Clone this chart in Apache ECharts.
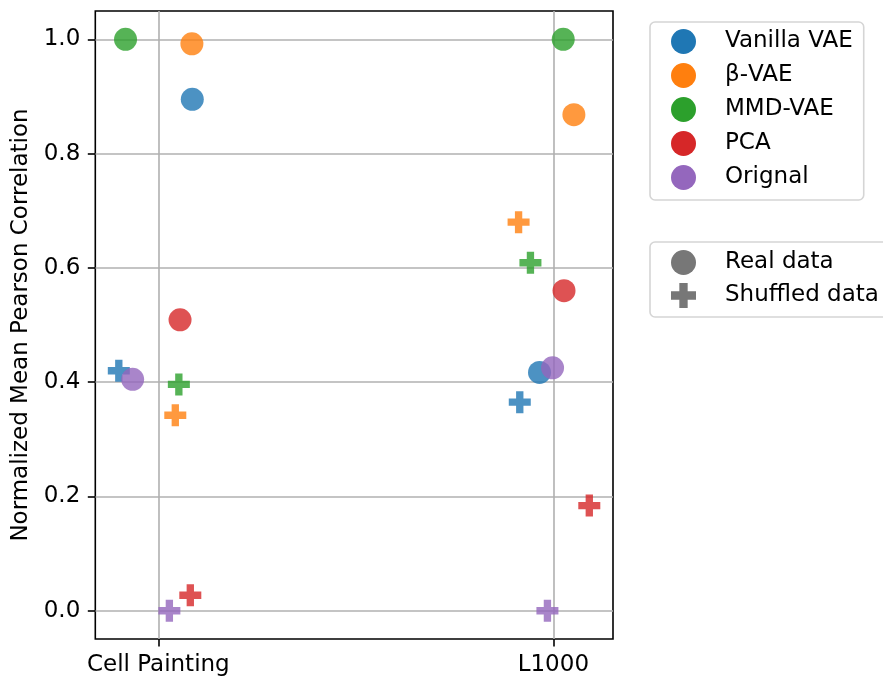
<!DOCTYPE html>
<html>
<head>
<meta charset="utf-8">
<script src="https://cdn.jsdelivr.net/npm/echarts@6/dist/echarts.min.js"></script>
<style>
  html, body { margin: 0; padding: 0; background: #ffffff; }
  #chart { width: 883px; height: 677px; }
</style>
</head>
<body>
<div id="chart"></div>
<script>
// Datasets on the x axis, methods as colours
const categories = ['Cell Painting', 'L1000'];
const methods = ['Vanilla VAE', 'β-VAE', 'MMD-VAE', 'PCA', 'Orignal'];
const colors = ['#1f77b4', '#ff7f0e', '#2ca02c', '#d62728', '#9467bd'];

// Normalized mean Pearson correlation, [Cell Painting, L1000] per method
const realValues = [
  [0.895, 0.417],
  [0.992, 0.868],
  [1.000, 1.000],
  [0.509, 0.560],
  [0.405, 0.425]
];
const shuffledValues = [
  [0.420, 0.365],
  [0.342, 0.680],
  [0.396, 0.609],
  [0.027, 0.184],
  [0.000, 0.000]
];

// Strip-plot horizontal jitter (in category units) for each point
const realJitter = [
  [0.086, -0.035],
  [0.085, 0.052],
  [-0.083, 0.025],
  [0.055, 0.027],
  [-0.065, -0.002]
];
const shuffledJitter = [
  [-0.100, -0.085],
  [0.043, -0.088],
  [0.052, -0.058],
  [0.081, 0.091],
  [0.028, -0.015]
];

const yTicks = [0, 0.2, 0.4, 0.6, 0.8, 1.0];
const xTicks = [0, 1];

const FONT = 'DejaVu Sans';
const FONT_SIZE = 23;
const PLUS = 'path://M1,0H2V1H3V2H2V3H1V2H0V1H1Z';
const GRID_COLOR = '#b0b0b0';

function points(values, jitter) {
  return values.map((v, k) => [k + jitter[k], v]);
}

const series = [];
// Shuffled data (plus markers) drawn first, real data (circles) on top
methods.forEach((m, i) => {
  series.push({
    name: m,
    type: 'scatter',
    symbol: PLUS,
    symbolSize: 22,
    itemStyle: { color: colors[i], opacity: 0.8 },
    data: points(shuffledValues[i], shuffledJitter[i])
  });
});
methods.forEach((m, i) => {
  series.push({
    name: m,
    type: 'scatter',
    symbol: 'circle',
    symbolSize: 23,
    itemStyle: { color: colors[i], opacity: 0.8 },
    data: points(realValues[i], realJitter[i])
  });
});
// Entries for the marker-style legend
series.push({ name: 'Real data', type: 'scatter', symbol: 'circle', itemStyle: { color: '#777777' }, data: [] });
series.push({ name: 'Shuffled data', type: 'scatter', symbol: PLUS, itemStyle: { color: '#777777' }, data: [] });

const legendBase = {
  orient: 'vertical',
  left: 650,
  itemWidth: 25,
  itemHeight: 25,
  selectedMode: false,
  borderColor: '#d5d5d5',
  borderWidth: 1.6,
  borderRadius: 5,
  itemStyle: { opacity: 1 },
  textStyle: { fontFamily: FONT, fontSize: FONT_SIZE, color: '#000', lineHeight: 24, padding: [0, 0, 0, 24] }
};

const axisTick = (values) => ({
  show: true, customValues: values, length: 7.5,
  lineStyle: { color: '#000', width: 1.6 }
});

const chart = echarts.init(document.getElementById('chart'), null, { renderer: 'canvas' });
chart.setOption({
  animation: false,
  backgroundColor: '#ffffff',
  textStyle: { fontFamily: FONT },
  grid: {
    left: 95.3, top: 11, right: 270, bottom: 38,
    show: true, borderColor: '#000000', borderWidth: 1.6, backgroundColor: 'transparent'
  },
  legend: [
    Object.assign({}, legendBase, {
      top: 22,
      padding: [7, 11, 10, 21],
      itemGap: 9,
      data: methods.map(n => ({ name: n, icon: 'circle' }))
    }),
    Object.assign({}, legendBase, {
      top: 242,
      padding: [8, 11, 9, 21],
      itemGap: 8,
      data: [{ name: 'Real data', icon: 'circle' }, { name: 'Shuffled data', icon: PLUS }]
    })
  ],
  xAxis: {
    type: 'value',
    min: -0.1595,
    max: 1.151,
    axisLine: { show: false, onZero: false },
    axisTick: axisTick(xTicks),
    axisLabel: {
      customValues: xTicks,
      formatter: v => categories[Math.round(v)],
      fontFamily: FONT, fontSize: FONT_SIZE, color: '#000', margin: 15
    },
    splitLine: { show: true, lineStyle: { color: GRID_COLOR, width: 1.6 } }
  },
  yAxis: {
    type: 'value',
    min: -0.0495,
    max: 1.0495,
    name: 'Normalized Mean Pearson Correlation',
    nameLocation: 'middle',
    nameGap: 61,
    nameTextStyle: { fontFamily: FONT, fontSize: FONT_SIZE, color: '#000' },
    axisLine: { show: false, onZero: false },
    axisTick: axisTick(yTicks),
    axisLabel: {
      customValues: yTicks,
      formatter: v => v.toFixed(1),
      fontFamily: FONT, fontSize: FONT_SIZE, color: '#000', margin: 15
    },
    splitLine: { show: true, lineStyle: { color: GRID_COLOR, width: 1.6 } }
  },
  series: series
});
</script>
</body>
</html>
